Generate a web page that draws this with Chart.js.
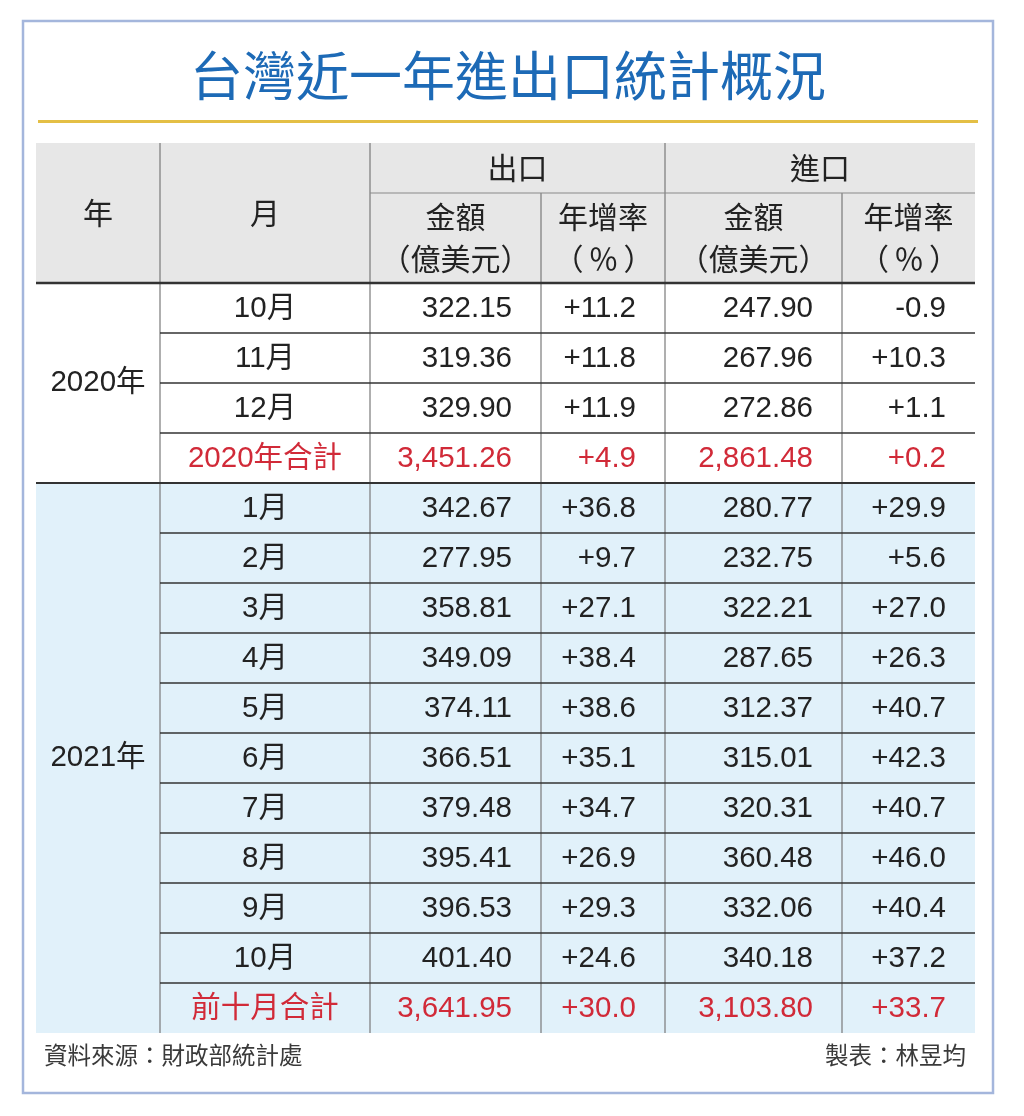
<!DOCTYPE html>
<html>
<head>
<meta charset="utf-8">
<script src="https://cdn.jsdelivr.net/npm/chart.js@4.4.1/dist/chart.umd.min.js"></script>
<style>
  body { margin: 0; background: #fff; }
  #wrap { width: 1024px; height: 1116px; position: relative; }
</style>
</head>
<body>
<div id="wrap"><canvas id="tbl"></canvas></div>
<script>
// table data
const title = "台灣近一年進出口統計概況";
const years = ["2020年", "2021年"];
const yearRows = [[0, 4], [4, 15]]; // row span of each year block
const months = ["10月", "11月", "12月", "2020年合計",
  "1月", "2月", "3月", "4月", "5月", "6月", "7月", "8月", "9月", "10月", "前十月合計"];
const exportAmt = [322.15, 319.36, 329.90, 3451.26,
  342.67, 277.95, 358.81, 349.09, 374.11, 366.51, 379.48, 395.41, 396.53, 401.40, 3641.95];
const exportRate = [11.2, 11.8, 11.9, 4.9,
  36.8, 9.7, 27.1, 38.4, 38.6, 35.1, 34.7, 26.9, 29.3, 24.6, 30.0];
const importAmt = [247.90, 267.96, 272.86, 2861.48,
  280.77, 232.75, 322.21, 287.65, 312.37, 315.01, 320.31, 360.48, 332.06, 340.18, 3103.80];
const importRate = [-0.9, 10.3, 1.1, 0.2,
  29.9, 5.6, 27.0, 26.3, 40.7, 42.3, 40.7, 46.0, 40.4, 37.2, 33.7];
const totalRows = [3, 14];
const source = "資料來源：財政部統計處";
const author = "製表：林昱均";

// layout in scale units
const colEdges = [0, 124, 334, 505, 629, 806, 939];
const HEAD_TOP = -2.8, HEAD_MID = -1.8;

const RED = "#d12a38";
const INK = "#222";
const NUM_FONT = "29.5px 'Liberation Sans', 'Noto Sans CJK TC', sans-serif";
const HEAD_FONT = "30px 'Noto Sans CJK TC', sans-serif";

const fmtAmt = v => v.toLocaleString("en-US", { minimumFractionDigits: 2, maximumFractionDigits: 2 });
const fmtRate = v => (v > 0 ? "+" : "") + v.toFixed(1);

const tablePlugin = {
  id: "tablePlugin",
  beforeDraw(chart) {
    const ctx = chart.ctx;
    const xs = chart.scales.x, ys = chart.scales.y;
    const X = v => xs.getPixelForValue(v);
    const Y = v => ys.getPixelForValue(v);
    const L = X(colEdges[0]), R = X(colEdges[6]);

    ctx.save();
    ctx.fillStyle = "#fff";
    ctx.fillRect(0, 0, chart.width, chart.height);

    // frame
    ctx.strokeStyle = "#a4b6dc";
    ctx.lineWidth = 2.5;
    ctx.strokeRect(23, 21, 970, 1072);

    // title
    ctx.fillStyle = "#1d6ab6";
    ctx.font = "53px 'Noto Sans CJK TC', sans-serif";
    ctx.textAlign = "center";
    ctx.textBaseline = "middle";
    ctx.fillText(title, 508, 76);
    ctx.fillStyle = "#e4bf45";
    ctx.fillRect(38, 120, 940, 3);

    // backgrounds
    ctx.fillStyle = "#e7e7e7";
    ctx.fillRect(L, Y(HEAD_TOP), R - L, Y(0) - Y(HEAD_TOP));
    ctx.fillStyle = "#e1f1fa";
    ctx.fillRect(L, Y(yearRows[1][0]), R - L, Y(yearRows[1][1]) - Y(yearRows[1][0]));

    // vertical lines
    ctx.strokeStyle = "#7a7a7a";
    ctx.lineWidth = 1.2;
    const vline = (x, y0, y1) => {
      ctx.beginPath(); ctx.moveTo(X(x), Y(y0)); ctx.lineTo(X(x), Y(y1)); ctx.stroke();
    };
    [1, 2, 4].forEach(i => vline(colEdges[i], HEAD_TOP, 15));
    [3, 5].forEach(i => vline(colEdges[i], HEAD_MID, 15));

    // horizontal lines
    const hline = (y, x0, x1, w, c) => {
      ctx.strokeStyle = c; ctx.lineWidth = w;
      ctx.beginPath(); ctx.moveTo(X(x0), Y(y)); ctx.lineTo(X(x1), Y(y)); ctx.stroke();
    };
    hline(HEAD_MID, colEdges[2], colEdges[6], 1.2, "#8a8a8a");
    for (let r = 1; r < months.length; r++) {
      if (r === yearRows[1][0]) continue;
      hline(r, colEdges[1], colEdges[6], 1.5, "#333");
    }
    hline(0, colEdges[0], colEdges[6], 2.5, "#333");
    hline(yearRows[1][0], colEdges[0], colEdges[6], 2, "#333");

    // header text
    ctx.fillStyle = INK;
    ctx.font = HEAD_FONT;
    ctx.textAlign = "center";
    const cx = (a, b) => (X(colEdges[a]) + X(colEdges[b])) / 2;
    const yHead = (Y(HEAD_TOP) + Y(0)) / 2;
    ctx.fillText("年", cx(0, 1), yHead);
    ctx.fillText("月", cx(1, 2), yHead);
    const yTop = (Y(HEAD_TOP) + Y(HEAD_MID)) / 2;
    ctx.fillText("出口", cx(2, 4), yTop);
    ctx.fillText("進口", cx(4, 6), yTop);
    const ySub1 = Y(HEAD_MID) + 24, ySub2 = Y(HEAD_MID) + 66;
    [[2, 3], [4, 5]].forEach(([a, b]) => {
      ctx.fillText("金額", cx(a, b), ySub1);
      ctx.fillText("（億美元）", cx(a, b), ySub2);
      ctx.fillText("年增率", cx(b, b + 1), ySub1);
      ctx.letterSpacing = "5px";
      ctx.fillText("（％）", cx(b, b + 1) + 3, ySub2);
      ctx.letterSpacing = "0px";
    });

    // year labels
    ctx.font = NUM_FONT;
    years.forEach((y, i) => {
      ctx.fillText(y, cx(0, 1), (Y(yearRows[i][0]) + Y(yearRows[i][1])) / 2);
    });

    // body
    const pad = 29;
    months.forEach((m, r) => {
      const yc = (Y(r) + Y(r + 1)) / 2 + 1;
      ctx.fillStyle = totalRows.includes(r) ? RED : INK;
      ctx.textAlign = "center";
      ctx.fillText(m, cx(1, 2), yc);
      ctx.textAlign = "right";
      ctx.fillText(fmtAmt(exportAmt[r]), X(colEdges[3]) - pad, yc);
      ctx.fillText(fmtRate(exportRate[r]), X(colEdges[4]) - pad, yc);
      ctx.fillText(fmtAmt(importAmt[r]), X(colEdges[5]) - pad, yc);
      ctx.fillText(fmtRate(importRate[r]), X(colEdges[6]) - pad, yc);
    });

    // footer
    ctx.fillStyle = "#3a3a3a";
    ctx.font = "23.5px 'Noto Sans CJK TC', sans-serif";
    ctx.textAlign = "left";
    ctx.fillText(source, 44, 1055);
    ctx.textAlign = "right";
    ctx.fillText(author, 966, 1055);
    ctx.restore();
  }
};

new Chart(document.getElementById("tbl"), {
  type: "scatter",
  data: { datasets: [{ data: [], pointRadius: 0 }] },
  options: {
    responsive: true,
    maintainAspectRatio: false,
    animation: false,
    events: [],
    layout: { padding: { left: 36, right: 49, top: 143, bottom: 83 } },
    plugins: { legend: { display: false }, tooltip: { enabled: false } },
    scales: {
      x: { type: "linear", min: colEdges[0], max: colEdges[6], display: false },
      y: { type: "linear", min: HEAD_TOP, max: months.length, reverse: true, display: false }
    }
  },
  plugins: [tablePlugin]
});
</script>
</body>
</html>
